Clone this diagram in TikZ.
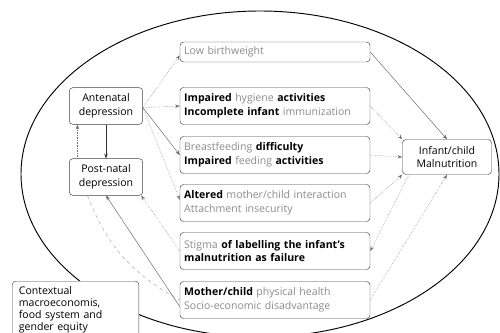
\documentclass[tikz,border=0pt]{standalone}
\usepackage{fontspec}
\setmainfont{Open Sans}
\usetikzlibrary{arrows.meta}
\newcommand{\faint}[1]{\textcolor{black!45}{#1}}

\begin{document}
\begin{tikzpicture}[x=0.03cm,y=-0.03cm,
    factor/.style ={draw=black!75, rounded corners=3pt, fill=white, inner sep=0pt,
                    font=\fontsize{9}{11.9}\selectfont},
    path/.style ={factor, text width=5.45cm, minimum width=5.7cm, minimum height=1.11cm, align=left},
    mood/.style ={factor, minimum width=2.2cm, minimum height=1.1cm, align=center},
    link/.style ={thin, black!55, densely dotted, -{Stealth[length=4pt,width=3pt]}},
    plain/.style ={thin, black!60, -{Stealth[length=4pt,width=3pt]}}]
   \useasboundingbox (0,0) rectangle (500,332);
   \draw[thick] (260,174) ellipse [x radius=239, y radius=163];
   \node[path, minimum height=0.6cm] (L) at (275,52) {\faint{Low birthweight}};
   \node[path] (H) at (275,106) {\textbf{Impaired} \faint{hygiene} \textbf{activities}\\\textbf{Incomplete infant} \faint{immunization}};
   \node[path] (B) at (275,155) {\faint{Breastfeeding} \textbf{difficulty}\\\textbf{Impaired} \faint{feeding} \textbf{activities}};
   \node[path] (I) at (275,203) {\textbf{Altered} \faint{mother/child interaction}\\\faint{Attachment insecurity}};
   \node[path] (S) at (275,251) {\faint{Stigma} \textbf{of labelling the infant's}\\\textbf{malnutrition as failure}};
   \node[path] (P) at (275,300) {\textbf{Mother/child} \faint{physical health}\\\faint{Socio-economic disadvantage}};
   \node[mood] (A) at (106,106) {Antenatal\\depression};
   \node[mood] (N) at (106,177) {Post-natal\\depression};
   \node[mood, minimum width=2.67cm, minimum height=1.05cm] (M) at (447,157) {Infant/child\\Malnutrition};
   \node[factor, text width=3.4cm, minimum width=3.7cm, minimum height=1.7cm, align=left,
         anchor=north west, inner xsep=0.2cm, inner ysep=0.04cm, font=\fontsize{9}{10.3}\selectfont] (C) at (12,281)
         {Contextual\\macroeconomis,\\food system and\\gender equity};
   \draw[link] ([yshift=-0.05cm]A.east) to ([yshift=-0.1cm]L.west);
   \draw[link] ([yshift=-0.05cm]A.east) to (H.west);
   \draw[plain] ([yshift=-0.05cm]A.east) to (B.west);
   \draw[link] ([yshift=-0.05cm]A.east) to ([yshift=0.1cm]I.west);
   \draw[black!80, -{Stealth[length=4pt,width=3pt]}] (A.south) to (N.north);
   \draw[link] ([xshift=0.25cm]N.north west) to ([xshift=0.25cm]A.south west);
   \draw[link] (S.west) to ([xshift=-0.05cm]N.south east);
   \draw[plain] ([yshift=-0.2cm]P.west) to (N.south);
   \draw[thin, black!35, dashed] ([xshift=0.55cm]N.south west) to [bend right=20] (P.west);
   \draw[plain] (L.east) to (M.north);
   \draw[link] (H.east) to (M.north west);
   \draw[link] (B.east) to (M.west);
   \draw[link] (I.east) to (M.south west);
   \draw[link] ([xshift=0.2cm]M.south west) to (S.east);
   \draw[link] (P.east) to (M.south);
 \end{tikzpicture}
\end{document}
